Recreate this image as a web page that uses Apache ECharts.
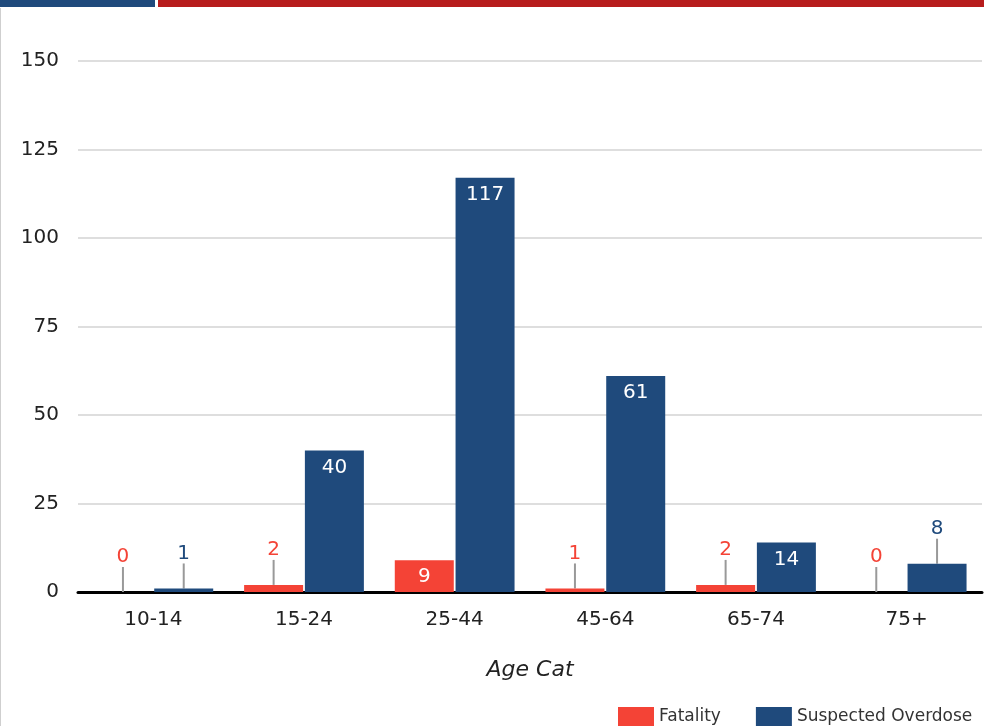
<!DOCTYPE html>
<html>
<head>
<meta charset="utf-8">
<style>
  html, body { margin: 0; padding: 0; background: #fff; }
  #chart { width: 984px; height: 726px; }
</style>
<script src="https://cdn.jsdelivr.net/npm/echarts@6/dist/echarts.min.js"></script>
</head>
<body>
<div id="chart"></div>
<script>
var categories = ['10-14', '15-24', '25-44', '45-64', '65-74', '75+']
var fatality = [0, 2, 9, 1, 2, 0]
var suspectedOverdose = [1, 40, 117, 61, 14, 8]
var yTicks = [0, 25, 50, 75, 100, 125, 150]

var RED = '#F44336'
var BLUE = '#1F4A7C'
var FONT = 'DejaVu Sans'

// small values get an outside label with a guide line, bigger ones sit inside the bar
function buildData(values, color) {
  return values.map(function(v) {
    if (v >= 9) {
      return {
        value: v,
        label: { position: 'insideTop', distance: 7, color: '#fff' }
      }
    }
    return {
      value: v,
      label: { position: 'top', distance: 5, color: color },
      labelLine: { show: true, lineStyle: { color: '#999', width: 2 } }
    }
  })
}

var chart = echarts.init(document.getElementById('chart'))
chart.setOption({
  backgroundColor: '#fff',
  textStyle: { fontFamily: FONT },
  graphic: [
    { type: 'rect', left: 0, top: 0, shape: { width: 155, height: 7 }, style: { fill: '#1F4A7C' } },
    { type: 'rect', left: 158, top: 0, shape: { width: 826, height: 7 }, style: { fill: '#B71C1C' } },
    { type: 'rect', left: 0, top: 8, shape: { width: 1, height: 718 }, style: { fill: '#cfcfcf' } }
  ],
  legend: {
    left: 618,
    top: 707,
    padding: 0,
    icon: 'rect',
    itemWidth: 36,
    itemHeight: 19,
    itemGap: 35,
    textStyle: { fontFamily: FONT, fontSize: 17, color: '#333' },
    data: ['Fatality', 'Suspected Overdose']
  },
  grid: { left: 78, right: 2, top: 61, bottom: 134, containLabel: false },
  xAxis: {
    type: 'category',
    data: categories,
    name: 'Age Cat',
    nameLocation: 'middle',
    nameGap: 67,
    nameTextStyle: { fontFamily: FONT, fontSize: 22, fontStyle: 'italic', color: '#222' },
    axisLine: { lineStyle: { color: '#000', width: 3 } },
    axisTick: { show: false },
    axisLabel: { fontFamily: FONT, fontSize: 20, color: '#222', margin: 18 }
  },
  yAxis: {
    type: 'value',
    min: yTicks[0],
    max: yTicks[yTicks.length - 1],
    interval: 25,
    axisLine: { show: false },
    axisTick: { show: false },
    axisLabel: { fontFamily: FONT, fontSize: 20, color: '#222', margin: 19 },
    splitLine: { lineStyle: { color: '#dedede', width: 2 } }
  },
  series: [
    {
      name: 'Fatality',
      type: 'bar',
      barWidth: 59,
      barGap: '3%',
      itemStyle: { color: RED },
      label: { show: true, fontFamily: FONT, fontSize: 20 },
      labelLayout: function(params) {
        return fatality[params.dataIndex] < 9 ? { dy: -20 } : {}
      },
      data: buildData(fatality, RED)
    },
    {
      name: 'Suspected Overdose',
      type: 'bar',
      barWidth: 59,
      barGap: '3%',
      itemStyle: { color: BLUE },
      label: { show: true, fontFamily: FONT, fontSize: 20 },
      labelLayout: function(params) {
        return suspectedOverdose[params.dataIndex] < 9 ? { dy: -20 } : {}
      },
      data: buildData(suspectedOverdose, BLUE)
    }
  ]
})
</script>
</body>
</html>
